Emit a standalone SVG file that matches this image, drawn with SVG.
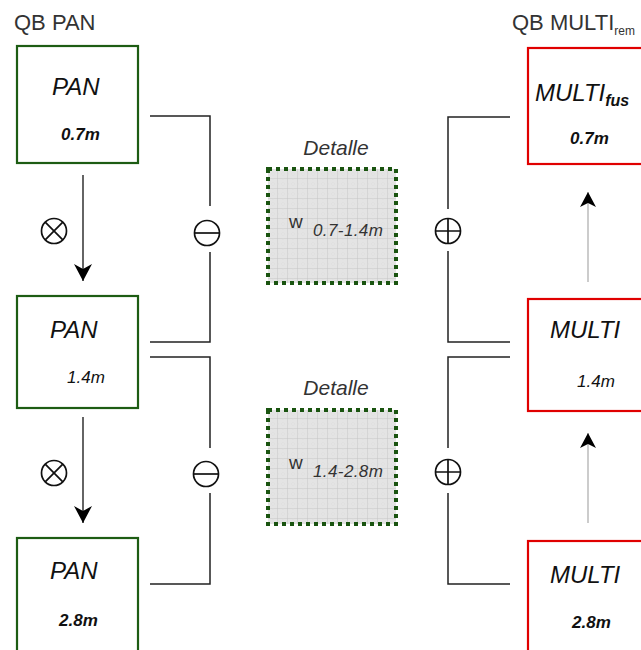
<svg xmlns="http://www.w3.org/2000/svg" width="641" height="650" viewBox="0 0 641 650">
<defs>
<style>
.title{font-family:"Liberation Sans",Arial,sans-serif;font-size:22px;fill:#333;}
.sub{font-size:12px;}
.pan{fill:#fff;stroke:#1d5c13;stroke-width:2.2;}
.multi{fill:#fff;stroke:#e00000;stroke-width:2.2;}
.big{font-family:"Liberation Sans",Arial,sans-serif;font-size:24px;font-style:italic;fill:#111;}
.small{font-family:"Liberation Sans",Arial,sans-serif;font-size:17px;font-style:italic;fill:#111;}
.bold{font-weight:bold;}
.det{font-family:"Liberation Sans",Arial,sans-serif;font-size:21px;font-style:italic;fill:#333;}
.w{font-family:"Liberation Sans",Arial,sans-serif;font-size:19px;fill:#333;}
.wr{font-family:"Liberation Sans",Arial,sans-serif;font-size:17px;font-style:italic;fill:#333;letter-spacing:0.4px;}
.br{fill:none;stroke:#222;stroke-width:1.5;}
.sym{fill:none;stroke:#111;stroke-width:1.7;}
.dbox{fill:url(#grid);stroke:#1a5410;stroke-width:4;stroke-dasharray:4 4;}
</style>
<pattern id="grid" width="10" height="10" patternUnits="userSpaceOnUse" x="268" y="169">
<rect width="10" height="10" fill="#e4e4e4"/>
<path d="M10,0 V10 M0,10 H10" stroke="#c6c6c6" stroke-width="1" fill="none"/>
<path d="M5,0 V10 M0,5 H10" stroke="#d8d8d8" stroke-width="0.6" stroke-dasharray="1 2" fill="none"/>
</pattern>
<marker id="ah" viewBox="0 0 17 18" refX="17" refY="9" markerWidth="17" markerHeight="18" markerUnits="userSpaceOnUse" orient="auto">
<path d="M0,0 L17,9 L0,18 L5,9 Z" fill="#000"/>
</marker>
<marker id="ah2" viewBox="0 0 15 16" refX="15" refY="8" markerWidth="15" markerHeight="16" markerUnits="userSpaceOnUse" orient="auto">
<path d="M0,0 L15,8 L0,16 L4,8 Z" fill="#000"/>
</marker>
</defs>
<rect width="641" height="650" fill="#fff"/>

<text class="title" x="14" y="30">QB PAN</text>
<text class="title" x="512" y="30">QB MULTI<tspan class="sub" dy="5">rem</tspan></text>

<g id="connectors">
<line x1="83" y1="175" x2="83" y2="281" stroke="#111" stroke-width="1.3" marker-end="url(#ah)"/>
<line x1="83" y1="417" x2="83" y2="523" stroke="#111" stroke-width="1.3" marker-end="url(#ah)"/>
<line x1="588" y1="282" x2="588" y2="192" stroke="#999" stroke-width="1" marker-end="url(#ah2)"/>
<line x1="588" y1="523" x2="588" y2="433" stroke="#999" stroke-width="1" marker-end="url(#ah2)"/>
<path class="br" d="M150,116 H210 V206 M210,252 V342 H150"/>
<path class="br" d="M150,357 H210 V448 M210,493 V584 H150"/>
<path class="br" d="M510,117 H448 V209 M448,251 V342 H510"/>
<path class="br" d="M510,357 H448 V448 M448,493 V584 H510"/>
<g id="ops">
<circle class="sym" cx="54" cy="231" r="12.5"/><path class="sym" d="M45.2,222.2 L62.8,239.8 M62.8,222.2 L45.2,239.8"/>
<circle class="sym" cx="54" cy="473" r="12.5"/><path class="sym" d="M45.2,464.2 L62.8,481.8 M62.8,464.2 L45.2,481.8"/>
<circle class="sym" cx="207" cy="233" r="12.5"/><path class="sym" d="M194.5,233 H219.5"/>
<circle class="sym" cx="206" cy="474" r="12.5"/><path class="sym" d="M193.5,474 H218.5"/>
<circle class="sym" cx="448" cy="231" r="12.5"/><path class="sym" d="M435.5,231 H460.5 M448,218.5 V243.5"/>
<circle class="sym" cx="448" cy="472" r="12.5"/><path class="sym" d="M435.5,472 H460.5 M448,459.5 V484.5"/>
</g>
</g>

<g id="pan1">
<rect class="pan" x="17" y="46" width="121" height="117"/>
<text class="big" x="52" y="95">PAN</text>
<text class="small bold" x="61" y="140">0.7m</text>
</g>
<g id="pan2">
<rect class="pan" x="17" y="296" width="121" height="112"/>
<text class="big" x="50" y="338">PAN</text>
<text class="small" x="67" y="383">1.4m</text>
</g>
<g id="pan3">
<rect class="pan" x="17" y="538" width="121" height="120"/>
<text class="big" x="50" y="579">PAN</text>
<text class="small bold" x="59" y="626">2.8m</text>
</g>

<g id="multi1">
<rect class="multi" x="528" y="48" width="125" height="116"/>
<text class="big" x="535" y="101">MULTI<tspan class="bold" font-size="16" dy="5">fus</tspan></text>
<text class="small bold" x="570" y="144">0.7m</text>
</g>
<g id="multi2">
<rect class="multi" x="528" y="299" width="125" height="112"/>
<text class="big" x="550" y="338">MULTI</text>
<text class="small" x="577" y="387">1.4m</text>
</g>
<g id="multi3">
<rect class="multi" x="528" y="541" width="125" height="120"/>
<text class="big" x="550" y="583">MULTI</text>
<text class="small bold" x="572" y="628">2.8m</text>
</g>

<g id="detalle1">
<text class="det" x="336" y="155" text-anchor="middle">Detalle</text>
<rect class="dbox" x="268" y="169" width="128" height="114"/>
<text class="w" x="289" y="228">w</text>
<text class="wr" x="313" y="236">0.7-1.4m</text>
</g>
<g id="detalle2">
<text class="det" x="336" y="395" text-anchor="middle">Detalle</text>
<rect class="dbox" x="268" y="410" width="128" height="114"/>
<text class="w" x="289" y="469">w</text>
<text class="wr" x="313" y="477">1.4-2.8m</text>
</g>
</svg>
